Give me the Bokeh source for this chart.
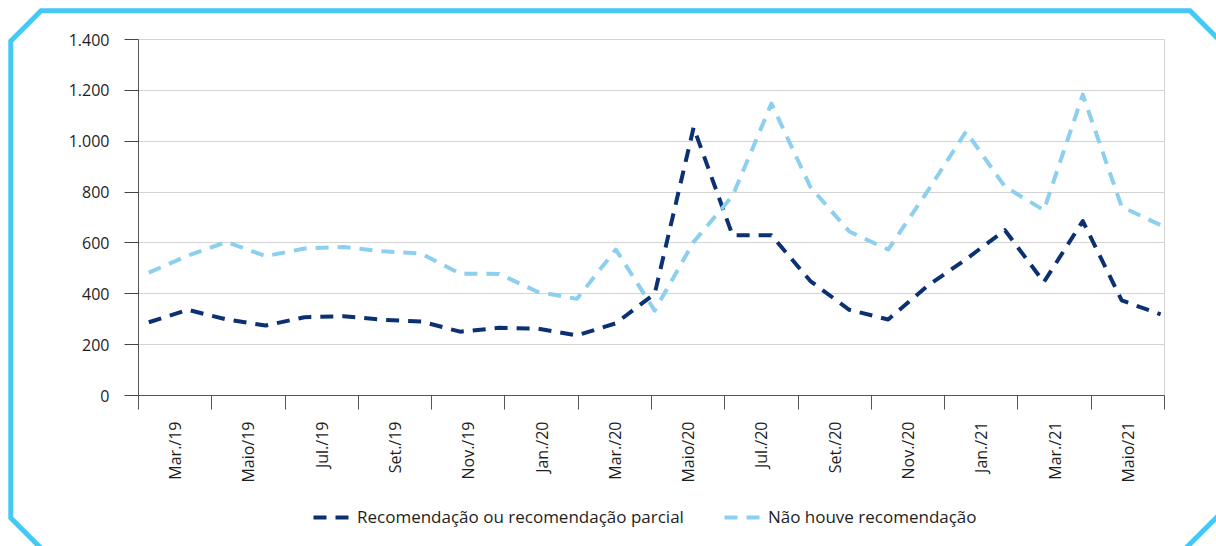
import math
from urllib.parse import quote
from bokeh.plotting import figure
from bokeh.layouts import column
from bokeh.models import FixedTicker, Legend, LegendItem, Range1d
from bokeh.embed import file_html
from bokeh.resources import INLINE

# ---- data ----
months = ["Mar/19", "Abr/19", "Mai/19", "Jun/19", "Jul/19", "Ago/19", "Set/19", "Out/19",
          "Nov/19", "Dez/19", "Jan/20", "Fev/20", "Mar/20", "Abr/20", "Mai/20", "Jun/20",
          "Jul/20", "Ago/20", "Set/20", "Out/20", "Nov/20", "Dez/20", "Jan/21", "Fev/21",
          "Mar/21", "Abr/21", "Mai/21"]
recomendacao = [288, 337, 299, 275, 308, 312, 298, 291, 251, 266, 263, 236, 284, 400,
                1054, 630, 630, 450, 337, 299, 430, 536, 650, 446, 686, 374, 319]
nao_houve = [483, 550, 604, 548, 578, 584, 567, 558, 479, 478, 407, 380, 574, 334,
             604, 785, 1148, 820, 645, 574, 801, 1038, 821, 729, 1183, 742, 670]
tick_labels = ["Mar./19", "Maio/19", "Jul./19", "Set./19", "Nov./19", "Jan./20", "Mar./20",
               "Maio/20", "Jul./20", "Set./20", "Nov./20", "Jan./21", "Mar./21", "Maio/21"]
y_ticks = [0, 200, 400, 600, 800, 1000, 1200, 1400]
y_labels = ["0", "200", "400", "600", "800", "1.000", "1.200", "1.400"]
series_names = ["Recomendação ou recomendação parcial", "Não houve recomendação"]

DARK = "#0b3172"
LIGHT = "#8ccfef"
CYAN = "#45c8f4"
FONT = "Open Sans"
TXT = "#1e1e1e"
DASH = "13 9"

x = list(range(len(months)))
x0, x1 = -0.265, len(months) - 1 + 0.10
n_int = len(tick_labels)
step = (x1 - x0) / n_int
bounds = [x0 + j * step for j in range(n_int + 1)]
centers = [x0 + (j + 0.5) * step for j in range(n_int)]

W, H = 1216, 546
H1 = 495
p = figure(width=W, height=H1, output_backend="svg", toolbar_location=None,
           x_range=Range1d(x0, x1), y_range=Range1d(0, 1400),
           min_border_left=138, min_border_right=52, min_border_top=39, min_border_bottom=100)
p.background_fill_color = "white"
p.border_fill_color = None
p.outline_line_color = "#d4d4d4"
p.outline_line_width = 1

p.xgrid.visible = False
p.ygrid.grid_line_color = "#d4d4d4"
p.ygrid.grid_line_width = 1

p.line(x, recomendacao, line_color=DARK, line_width=4, line_dash=DASH, line_join="round")
p.line(x, nao_houve, line_color=LIGHT, line_width=4, line_dash=DASH, line_join="round")

# y axis
ya = p.yaxis[0]
ya.ticker = FixedTicker(ticks=y_ticks)
ya.major_label_overrides = {t: l for t, l in zip(y_ticks, y_labels)}
ya.major_tick_out = 14
ya.major_tick_in = 0
ya.minor_tick_line_color = None
ya.major_tick_line_color = "#444444"
ya.axis_line_color = "#555555"
ya.major_label_standoff = 15
ya.major_label_text_font = FONT
ya.major_label_text_font_size = "16px"
ya.major_label_text_color = TXT

# x axis
xa = p.xaxis[0]
xa.ticker = FixedTicker(ticks=centers, minor_ticks=bounds)
xa.major_label_overrides = {c: l for c, l in zip(centers, tick_labels)}
xa.major_tick_line_color = None
xa.major_tick_out = 0
xa.major_tick_in = 0
xa.minor_tick_out = 14
xa.minor_tick_in = 0
xa.minor_tick_line_color = "#555555"
xa.axis_line_color = "#555555"
xa.major_label_orientation = math.pi / 2
xa.major_label_standoff = 12
xa.major_label_text_font = FONT
xa.major_label_text_font_size = "16px"
xa.major_label_text_color = TXT

# legend strip (separate figure so the legend is not clipped by the chart frame);
# its series lie outside its (empty) view range, only their legend samples show
H2 = H - H1
lf = figure(width=W, height=H2, output_backend="svg", toolbar_location=None,
            x_range=Range1d(x0, x1), y_range=Range1d(-2, -1),
            min_border=0, min_border_left=0, min_border_right=0,
            min_border_top=0, min_border_bottom=0)
lf.axis.visible = False
lf.grid.visible = False
lf.outline_line_color = None
lf.background_fill_color = None
lf.border_fill_color = None
l1 = lf.line(x, recomendacao, line_color=DARK, line_width=4, line_dash=DASH)
l2 = lf.line(x, nao_houve, line_color=LIGHT, line_width=4, line_dash=DASH)
legend = Legend(items=[LegendItem(label=series_names[0], renderers=[l1]),
                       LegendItem(label=series_names[1], renderers=[l2])],
                location=(175, 18), orientation="horizontal",
                glyph_width=37, glyph_height=20, label_standoff=7, spacing=40,
                padding=0, margin=0, border_line_color=None, background_fill_alpha=0,
                label_text_font=FONT, label_text_font_size="17px", label_text_color=TXT)
lf.add_layout(legend)

# decorative cyan octagonal frame drawn as the page background
frame_svg = (
    f"<svg xmlns='http://www.w3.org/2000/svg' width='{W}' height='{H}'>"
    f"<polygon points='10.8,41 41,10.8 1190,10.8 1225,45.8 1225,509 1184,550 42.8,550 10.8,518' "
    f"fill='white' stroke='{CYAN}' stroke-width='5'/></svg>"
)
layout = column(p, lf, spacing=0, styles={
    "background-image": f'url("data:image/svg+xml,{quote(frame_svg)}")',
    "background-repeat": "no-repeat",
    "background-color": "white",
})

open("out.html", "w").write(file_html(layout, INLINE))
